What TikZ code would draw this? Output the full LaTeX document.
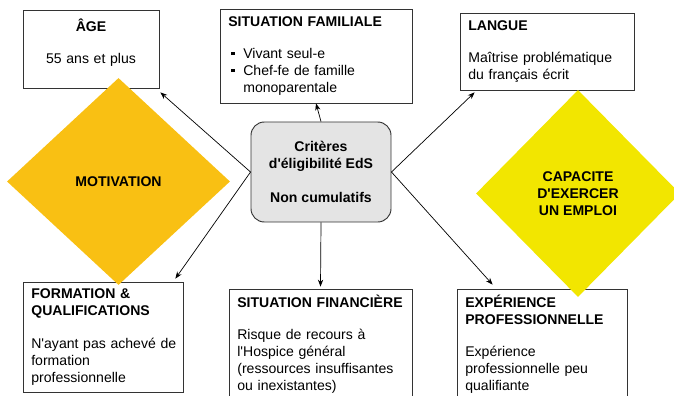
\documentclass[tikz,border=0pt]{standalone}
\usepackage{fontspec}
\newfontfamily\arial{Liberation Sans}
\usetikzlibrary{shapes.geometric,arrows.meta}
\definecolor{jaunefonce}{HTML}{F9C013}
\definecolor{jaune}{HTML}{F2E600}
\definecolor{grisclair}{HTML}{E4E4E4}
\definecolor{trait}{HTML}{333333}
\newcommand{\txt}{\arial\fontsize{12}{14.5}\selectfont}
\newcommand{\puce}{\makebox[0.45cm][l]{\hspace{0.09cm}\rule[0.1cm]{0.11cm}{0.11cm}}}

\begin{document}
\begin{tikzpicture}[
    x=0.03cm, y=-0.03cm,
    every node/.style={font=\txt},
    boite/.style={rectangle, draw=trait, line width=0.6pt, fill=white, inner xsep=0.25cm, inner ysep=0pt, align=left},
    centre/.style={rectangle, draw=trait, line width=0.8pt, fill=grisclair, rounded corners=0.4cm, align=center, font=\txt\bfseries, minimum width=4.2cm, minimum height=3cm},
    losange/.style={diamond, inner sep=0pt, align=center, font=\txt\bfseries},
    fleche/.style={-{Stealth[length=6pt, width=4.5pt]}, line width=0.6pt}
]
\useasboundingbox (0,0) rectangle (674,396);

% Criteres
\node[boite, align=center, text width=3.58cm, minimum height=2.34cm] (age) at (91,49) {\textbf{ÂGE}\\[13pt]55 ans et plus\\[-5pt]\strut};
\node[boite, text width=5.26cm, minimum height=2.82cm] (famille) at (316,56) {\textbf{SITUATION FAMILIALE}\\[13pt]\puce Vivant seul-e\\\puce Chef-fe de famille\\\hspace*{0.45cm}monoparentale};
\node[boite, text width=4.72cm, minimum height=2.31cm] (langue) at (547,51.5) {\textbf{LANGUE}\\[13pt]Maîtrise problématique\\du français écrit};
\node[boite, text width=4.3cm, minimum height=3.3cm] (formation) at (103,337) {\textbf{FORMATION \&}\\\textbf{QUALIFICATIONS}\\[13pt]\mbox{N'ayant pas achevé de}\\formation\\professionnelle};
\node[boite, text width=4.99cm, minimum height=3.3cm] (finance) at (320.5,344) {\textbf{SITUATION FINANCIÈRE}\\[13pt]Risque de recours à\\l'Hospice général\\(ressources insuffisantes\\ou inexistantes)};
\node[boite, text width=4.6cm, minimum height=3.3cm] (experience) at (542,344) {\textbf{EXPÉRIENCE}\\\textbf{PROFESSIONNELLE}\\[13pt]Expérience\\professionnelle peu\\qualifiante};

% Centre
\node[centre] (criteres) at (321,172) {Critères\\d'éligibilité EdS\\[14pt]Non cumulatifs};

% Losanges
\node[losange, fill=jaunefonce, minimum width=6.69cm, minimum height=6.21cm] (motivation) at (118.5,181.5) {MOTIVATION};
\node[losange, fill=jaune, minimum width=6.12cm, minimum height=6.21cm] (capacite) at (578,193.5) {CAPACITE\\D'EXERCER\\UN EMPLOI};

% Fleches
\draw[fleche] (criteres.west) -- ([shift={(1,4)}]age.south east);
\draw[fleche] (criteres.north) -- (famille.south);
\draw[fleche] (criteres.east) -- ([shift={(15,2)}]langue.south west);
\draw[fleche] (criteres.west) -- ([shift={(-8,-3)}]formation.north east);
\draw[fleche] (criteres.south) -- ([yshift=0.06cm]finance.north);
\draw[fleche] (criteres.east) -- ([shift={(36,-4)}]experience.north west);

\end{tikzpicture}
\end{document}
